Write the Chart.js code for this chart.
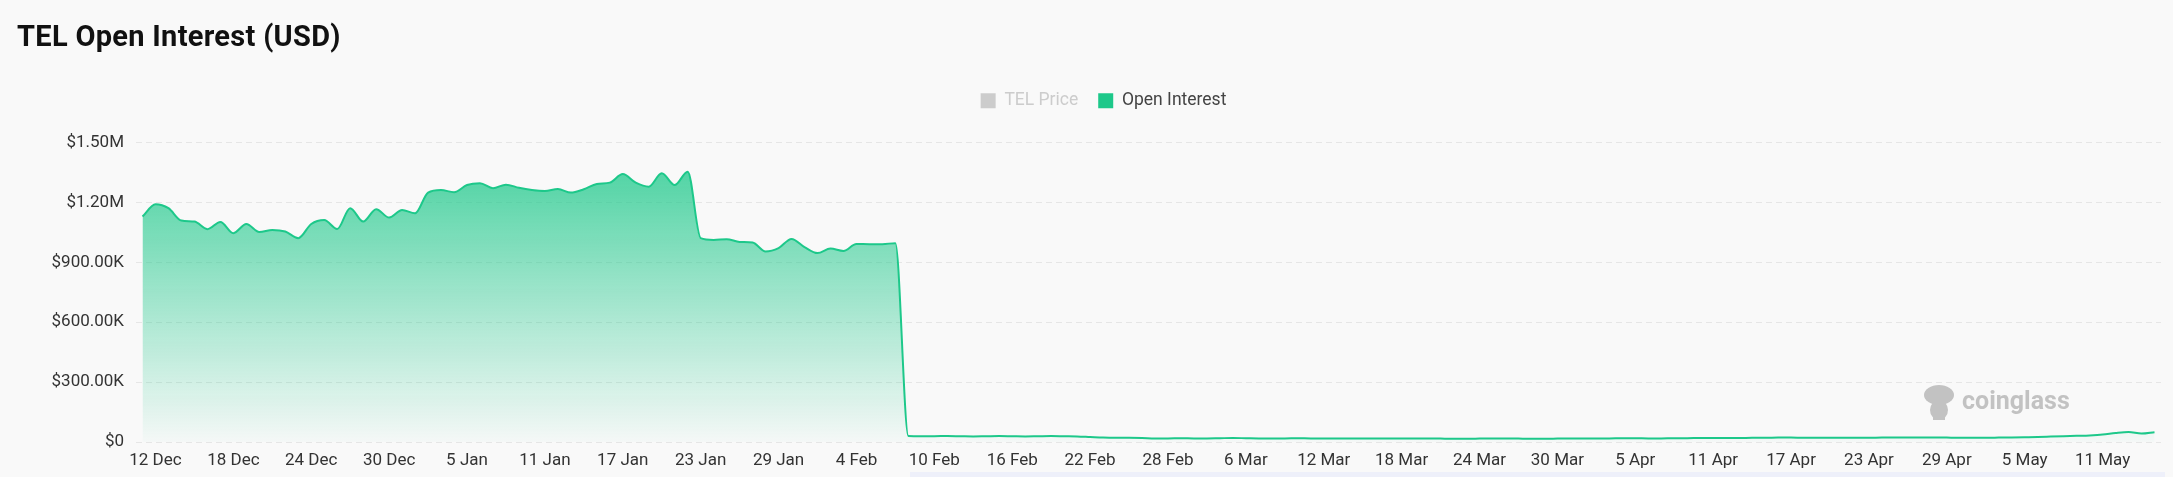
<!DOCTYPE html>
<html>
<head>
<meta charset="utf-8">
<script src="https://cdn.jsdelivr.net/npm/chart.js@4/dist/chart.umd.min.js"></script>
<style>
  html, body { margin: 0; padding: 0; background: #f9f9f9; }
  #wrap { position: relative; width: 2173px; height: 477px; overflow: hidden; }
  #title {
    position: absolute; left: 17px; top: 19px; line-height: 34px; letter-spacing: 0.3px;
    font-family: Roboto, sans-serif; font-weight: bold; font-size: 29px; color: #111;
  }
  #chartBox { position: absolute; left: 0; top: 0; width: 2173px; height: 477px; }
  #slider { position: absolute; left: 910px; top: 472px; width: 1255px; height: 5px; background: #eef0fa; }
</style>
</head>
<body>
<div id="wrap">
  <div id="chartBox"><canvas id="oiChart"></canvas></div>
  <div id="title">TEL Open Interest (USD)</div>
  <div id="slider"></div>
</div>
<script>
// daily points from 11 Dec 2024 to 15 May 2025
var startDate = new Date(2024, 11, 11);
var dayCount = 156;
var monthNames = ['Jan', 'Feb', 'Mar', 'Apr', 'May', 'Jun', 'Jul', 'Aug', 'Sep', 'Oct', 'Nov', 'Dec'];

var dates = [];
for (var i = 0; i < dayCount; i++) {
    var d = new Date(startDate.getFullYear(), startDate.getMonth(), startDate.getDate() + i);
    dates.push(d.getDate() + ' ' + monthNames[d.getMonth()]);
}

var seriesNames = ['TEL Price', 'Open Interest'];

var openInterest = [
    1129000, 1191000, 1171000, 1109000, 1104000, 1066000, 1102000, 1046000, 1092000, 1052000,
    1062000, 1054000, 1021000, 1092000, 1112000, 1067000, 1171000, 1104000, 1166000, 1124000,
    1162000, 1146000, 1249000, 1262000, 1251000, 1287000, 1296000, 1271000, 1289000, 1273000,
    1262000, 1257000, 1267000, 1249000, 1266000, 1292000, 1299000, 1342000, 1299000, 1279000,
    1346000, 1287000, 1354000, 1021000, 1012000, 1016000, 1002000, 999000, 954000, 971000,
    1017000, 976000, 946000, 969000, 957000, 992000, 991000, 991000, 996000,
    30000, 29000, 29000, 30000, 29000, 28000, 29000, 30000, 29000, 28000,
    29000, 30000, 29000, 28000, 25000, 22000, 21000, 21000, 20000, 18000,
    18000, 19000, 18000, 18000, 19000, 20000, 19000, 18000, 18000, 18000,
    19000, 18000, 18000, 18000, 18000, 17000, 17000, 18000, 18000, 18000,
    18000, 17000, 16000, 16000, 17000, 18000, 18000, 17000, 16000, 16000,
    17000, 18000, 18000, 18000, 18000, 19000, 19000, 18000, 18000, 19000,
    19000, 20000, 20000, 20000, 20000, 21000, 21000, 22000, 22000, 21000,
    21000, 21000, 21000, 21000, 21000, 22000, 22000, 23000, 23000, 23000,
    22000, 21000, 21000, 21000, 22000, 23000, 24000, 25000, 27000, 29000,
    31000, 33000, 37000, 45000, 50000, 42000, 49000
];

// price series is switched off in the legend, so nothing is drawn for it
var telPrice = [];

var yTicks = [0, 300000, 600000, 900000, 1200000, 1500000];

var green = '#1dc88a';

function formatUsd(value) {
    if (value === 0) return '$0';
    if (value >= 1000000) return '$' + (value / 1000000).toFixed(2) + 'M';
    return '$' + (value / 1000).toFixed(2) + 'K';
}

// push the plot down a bit below the legend
var legendGap = {
    id: 'legendGap',
    beforeInit: function(chart) {
        var fit = chart.legend.fit;
        chart.legend.fit = function() {
            fit.bind(chart.legend)();
            this.height += 23;
        };
    }
};

var watermark = {
    id: 'watermark',
    beforeDatasetsDraw: function(chart) {
        var ctx = chart.ctx;
        ctx.save();
        ctx.fillStyle = '#c2c2c2';
        // little mascot
        ctx.beginPath();
        ctx.ellipse(1939, 395, 15, 10, 0, 0, Math.PI * 2);
        ctx.fill();
        ctx.beginPath();
        ctx.ellipse(1939, 410, 9, 10, 0, 0, Math.PI * 2);
        ctx.fill();
        ctx.fillRect(1933, 412, 12, 8);
        ctx.font = 'bold 25px Roboto';
        ctx.textBaseline = 'middle';
        ctx.textAlign = 'left';
        ctx.fillText('coinglass', 1962, 403);
        ctx.restore();
    }
};

Chart.defaults.font.family = 'Roboto';

var ctx = document.getElementById('oiChart').getContext('2d');
new Chart(ctx, {
    type: 'line',
    data: {
        labels: dates,
        datasets: [{
            label: seriesNames[0],
            data: telPrice,
            borderColor: '#cccccc',
            backgroundColor: '#cccccc',
            pointRadius: 0
        }, {
            label: seriesNames[1],
            data: openInterest,
            borderColor: green,
            borderWidth: 2,
            pointRadius: 0,
            pointHoverRadius: 0,
            cubicInterpolationMode: 'monotone',
            fill: 'origin',
            backgroundColor: function(context) {
                var area = context.chart.chartArea;
                if (!area) return 'rgba(29, 200, 138, 0.4)';
                var g = context.chart.ctx.createLinearGradient(0, area.top, 0, area.bottom);
                g.addColorStop(0, 'rgba(29, 200, 138, 0.84)');
                g.addColorStop(0.5, 'rgba(29, 200, 138, 0.42)');
                g.addColorStop(1, 'rgba(29, 200, 138, 0.02)');
                return g;
            }
        }]
    },
    options: {
        responsive: true,
        maintainAspectRatio: false,
        animation: false,
        layout: {
            padding: { top: 72, left: 46, right: 12, bottom: 5 }
        },
        scales: {
            x: {
                offset: true,
                afterFit: function(scale) { scale.height = 30; },
                grid: { display: false, drawTicks: false },
                border: { display: false },
                ticks: {
                    autoSkip: false,
                    maxRotation: 0,
                    minRotation: 0,
                    padding: 9,
                    color: '#333',
                    font: { size: 17 },
                    callback: function(value, index) {
                        return index % 6 === 1 ? dates[index] : '';
                    }
                }
            },
            y: {
                min: yTicks[0],
                max: yTicks[yTicks.length - 1],
                afterFit: function(scale) { scale.width = 90; },
                afterBuildTicks: function(scale) {
                    scale.ticks = yTicks.map(function(v) { return { value: v }; });
                },
                grid: {
                    color: '#e6e6e6',
                    drawTicks: false
                },
                border: { display: false, dash: [6, 4] },
                ticks: {
                    padding: 12,
                    color: '#333',
                    font: { size: 17 },
                    callback: function(value) { return formatUsd(value); }
                }
            }
        },
        plugins: {
            legend: {
                position: 'top',
                onClick: null,
                labels: {
                    boxWidth: 15,
                    boxHeight: 15,
                    padding: 20,
                    font: { size: 17.5 },
                    generateLabels: function(chart) {
                        return chart.data.datasets.map(function(ds, i) {
                            var col = i === 0 ? '#cccccc' : green;
                            return {
                                text: ds.label,
                                fillStyle: col,
                                strokeStyle: col,
                                lineWidth: 0,
                                fontColor: i === 0 ? '#cccccc' : '#444',
                                hidden: false,
                                datasetIndex: i
                            };
                        });
                    }
                }
            },
            tooltip: { enabled: false }
        }
    },
    plugins: [legendGap, watermark]
});
</script>
</body>
</html>
